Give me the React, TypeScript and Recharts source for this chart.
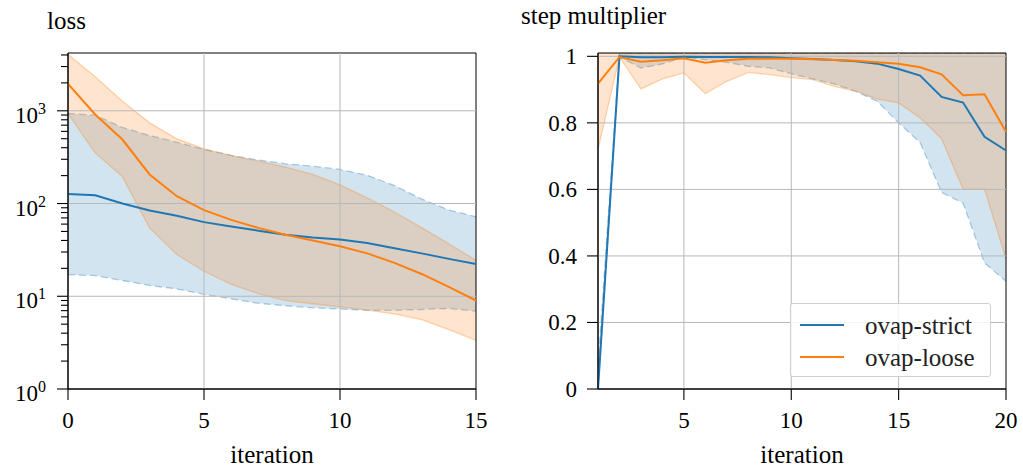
import React from "react";
import {
  ComposedChart,
  Line,
  Area,
  XAxis,
  YAxis,
  ReferenceLine,
  ReferenceArea,
  Legend,
} from "recharts";

// ---- data: loss (left panel) ----
const lossIter = [0, 1, 2, 3, 4, 5, 6, 7, 8, 9, 10, 11, 12, 13, 14, 15];
const strictLossMean = [127, 123, 100, 84, 74, 63, 56.5, 51, 46, 43, 41, 37.6, 33, 29, 25.3, 22.3];
const strictLossLow = [17.1, 16.7, 14.8, 13.1, 12.0, 10.5, 9.4, 8.4, 7.9, 7.5, 7.3, 7.06, 7.06, 7.2, 7.4, 6.9];
const strictLossHigh = [936, 898, 661, 542, 459, 383, 330, 294, 268, 253, 233, 202, 156, 112, 85, 72];
const looseLossMean = [1955, 912, 490, 206, 120, 85, 66.7, 54.6, 46, 40, 34.6, 29, 22.9, 17.4, 12.6, 9.0];
const looseLossLow = [930, 352, 195, 54.6, 28.2, 18.6, 13.4, 10.7, 9.0, 8.3, 7.7, 7.1, 6.45, 5.6, 4.37, 3.35];
const looseLossHigh = [4055, 2328, 1271, 741, 499, 389, 330, 286, 247, 206, 159, 115, 81, 55, 36.7, 24.4];

const lossMajorTicks = [1, 10, 100, 1000];
const lossMinorTicks = [
  2, 3, 4, 5, 6, 7, 8, 9, 20, 30, 40, 50, 60, 70, 80, 90, 200, 300, 400, 500, 600, 700, 800, 900,
  2000, 3000, 4000,
];
const lossXTicks = [0, 5, 10, 15];

// ---- data: step multiplier (right panel) ----
const stepIter = [1, 2, 3, 4, 5, 6, 7, 8, 9, 10, 11, 12, 13, 14, 15, 16, 17, 18, 19, 20];
const strictStepMean = [0.0, 1.0, 0.997, 0.997, 0.999, 0.998, 0.998, 0.998, 0.997, 0.994, 0.992, 0.989, 0.985, 0.978, 0.962, 0.942, 0.878, 0.861, 0.758, 0.717];
const strictStepLow = [0.0, 0.998, 0.965, 0.977, 0.998, 0.99, 0.982, 0.97, 0.965, 0.948, 0.932, 0.917, 0.895, 0.865, 0.8, 0.741, 0.591, 0.559, 0.379, 0.324];
const strictStepHigh = [0.07, 1.01, 1.01, 1.01, 1.01, 1.01, 1.01, 1.01, 1.01, 1.01, 1.01, 1.01, 1.01, 1.01, 1.01, 1.01, 1.01, 1.01, 1.01, 1.01];
const looseStepMean = [0.918, 0.998, 0.984, 0.988, 0.994, 0.981, 0.988, 0.993, 0.993, 0.993, 0.991, 0.989, 0.987, 0.982, 0.978, 0.967, 0.946, 0.883, 0.886, 0.773];
const looseStepLow = [0.72, 0.998, 0.902, 0.932, 0.95, 0.888, 0.925, 0.952, 0.945, 0.936, 0.93, 0.91, 0.895, 0.872, 0.86, 0.815, 0.752, 0.601, 0.601, 0.391];
const looseStepHigh = [1.01, 1.01, 1.01, 1.01, 1.01, 1.01, 1.01, 1.01, 1.01, 1.01, 1.01, 1.01, 1.01, 1.01, 1.01, 1.01, 1.01, 1.01, 1.01, 1.01];

const stepYTicks = [0, 0.2, 0.4, 0.6, 0.8, 1];
const stepXTicks = [5, 10, 15, 20];

const seriesNames = ["ovap-strict", "ovap-loose"];
const BLUE = "#1f77b4";
const ORANGE = "#ff7f0e";
const GRID = "#b8b8b8";
const FONT = "'Liberation Serif', 'Times New Roman', serif";

const lossData = lossIter.map((x, i) => ({
  x,
  strictMean: strictLossMean[i],
  strictBand: [strictLossLow[i], strictLossHigh[i]],
  looseMean: looseLossMean[i],
  looseBand: [looseLossLow[i], looseLossHigh[i]],
}));

const stepData = stepIter.map((x, i) => ({
  x,
  strictMean: strictStepMean[i],
  strictBand: [strictStepLow[i], strictStepHigh[i]],
  looseMean: looseStepMean[i],
  looseBand: [looseStepLow[i], looseStepHigh[i]],
}));

const majorSet = new Set(lossMajorTicks);

function LogTick(props: any) {
  const { x, y, payload } = props;
  const v = payload.value;
  const major = majorSet.has(v);
  const exp = Math.round(Math.log10(v));
  return (
    <g>
      <line x1={x} y1={y} x2={x - (major ? 11 : 7)} y2={y} stroke="#000" strokeWidth={1.1} />
      {major && (
        <text x={x - 22} y={y + 12} textAnchor="end" fontFamily={FONT} fontSize={23} fill="#000">
          10
          <tspan dy={-9} fontSize={16}>
            {exp}
          </tspan>
        </text>
      )}
    </g>
  );
}

function LinYTick(props: any) {
  const { x, y, payload } = props;
  return (
    <g>
      <line x1={x} y1={y} x2={x - 11} y2={y} stroke="#000" strokeWidth={1.1} />
      <text x={x - 21} y={y + 8} textAnchor="end" fontFamily={FONT} fontSize={23} fill="#000">
        {String(payload.value)}
      </text>
    </g>
  );
}

function XTick(props: any) {
  const { x, y, payload } = props;
  return (
    <g>
      <line x1={x} y1={y} x2={x} y2={y + 11} stroke="#000" strokeWidth={1.1} />
      <text x={x} y={y + 39} textAnchor="middle" fontFamily={FONT} fontSize={23} fill="#000">
        {String(payload.value)}
      </text>
    </g>
  );
}

function LegendBox(props: any) {
  const items = (props.payload || [])
    .filter((p: any) => p.type !== "none" && seriesNames.includes(p.value))
    .sort((a: any, b: any) => seriesNames.indexOf(a.value) - seriesNames.indexOf(b.value));
  return (
    <div
      style={{
        border: "1px solid #d0d0d0",
        borderRadius: 3,
        background: "rgba(255,255,255,0.85)",
        width: 201,
        height: 74,
        boxSizing: "border-box",
        paddingTop: 5,
      }}
    >
      {items.map((it: any) => (
        <div key={it.value} style={{ display: "flex", alignItems: "center", height: 32 }}>
          <div style={{ width: 44, height: 2, background: it.color, marginLeft: 9, marginRight: 21 }} />
          <span style={{ fontFamily: FONT, fontSize: 25, color: "#222", lineHeight: "25px" }}>{it.value}</span>
        </div>
      ))}
    </div>
  );
}

const axisLabel = (text: string) => ({
  value: text,
  position: "insideBottom" as const,
  offset: 4,
  fontFamily: FONT,
  fontSize: 25,
  fill: "#000",
});

export default function App() {
  return (
    <div style={{ position: "absolute", left: 0, top: 0, width: 1023, height: 467, background: "#fff" }}>
      <div style={{ position: "absolute", left: 47, top: 8, fontFamily: FONT, fontSize: 25, lineHeight: "25px" }}>loss</div>
      <div style={{ position: "absolute", left: 521, top: 3, fontFamily: FONT, fontSize: 25, lineHeight: "25px" }}>
        step multiplier
      </div>

      <div style={{ position: "absolute", left: 0, top: 0 }}>
        <ComposedChart width={500} height={467} data={lossData} margin={{ top: 53, right: 24, bottom: 0, left: 0 }}>
          <XAxis
            dataKey="x"
            type="number"
            domain={[0, 15]}
            ticks={lossXTicks}
            interval={0}
            height={78}
            tickSize={0}
            tickMargin={0}
            tickLine={false}
            tick={<XTick />}
            axisLine={{ stroke: "#000" }}
            label={axisLabel("iteration")}
          />
          <YAxis
            type="number"
            scale="log"
            domain={[1, 4200]}
            allowDataOverflow
            ticks={[...lossMajorTicks, ...lossMinorTicks]}
            interval={0}
            width={68}
            tickSize={0}
            tickMargin={0}
            tickLine={false}
            tick={<LogTick />}
            axisLine={{ stroke: "#000" }}
          />
          {lossMajorTicks.slice(1).map((v) => (
            <ReferenceLine key={"h" + v} y={v} stroke={GRID} strokeWidth={1} />
          ))}
          {lossXTicks.slice(1, -1).map((v) => (
            <ReferenceLine key={"v" + v} x={v} stroke={GRID} strokeWidth={1} />
          ))}
          <Area
            dataKey="strictBand"
            type="linear"
            fill={BLUE}
            fillOpacity={0.2}
            stroke={BLUE}
            strokeOpacity={0.35}
            strokeWidth={1.3}
            strokeDasharray="7 4"
            dot={false}
            activeDot={false}
            legendType="none"
            isAnimationActive={false}
          />
          <Area
            dataKey="looseBand"
            type="linear"
            fill={ORANGE}
            fillOpacity={0.2}
            stroke={ORANGE}
            strokeOpacity={0.3}
            strokeWidth={1.3}
            dot={false}
            activeDot={false}
            legendType="none"
            isAnimationActive={false}
          />
          <Line dataKey="strictMean" name={seriesNames[0]} type="linear" stroke={BLUE} strokeWidth={2} dot={false} isAnimationActive={false} />
          <Line dataKey="looseMean" name={seriesNames[1]} type="linear" stroke={ORANGE} strokeWidth={2} dot={false} isAnimationActive={false} />
          <ReferenceArea x1={0} x2={15} y1={1} y2={4200} fill="none" stroke="#000" strokeWidth={1} ifOverflow="visible" />
        </ComposedChart>
      </div>

      <div style={{ position: "absolute", left: 510, top: 0 }}>
        <ComposedChart width={513} height={467} data={stepData} margin={{ top: 53, right: 17, bottom: 0, left: 0 }}>
          <XAxis
            dataKey="x"
            type="number"
            domain={[1, 20]}
            ticks={stepXTicks}
            interval={0}
            height={78}
            tickSize={0}
            tickMargin={0}
            tickLine={false}
            tick={<XTick />}
            axisLine={{ stroke: "#000" }}
            label={axisLabel("iteration")}
          />
          <YAxis
            type="number"
            domain={[0, 1.01]}
            allowDataOverflow
            ticks={stepYTicks}
            interval={0}
            width={88}
            tickSize={0}
            tickMargin={0}
            tickLine={false}
            tick={<LinYTick />}
            axisLine={{ stroke: "#000" }}
          />
          {stepYTicks.slice(1).map((v) => (
            <ReferenceLine key={"h" + v} y={v} stroke={GRID} strokeWidth={1} />
          ))}
          {stepXTicks.slice(0, -1).map((v) => (
            <ReferenceLine key={"v" + v} x={v} stroke={GRID} strokeWidth={1} />
          ))}
          <Area
            dataKey="strictBand"
            type="linear"
            fill={BLUE}
            fillOpacity={0.2}
            stroke={BLUE}
            strokeOpacity={0.35}
            strokeWidth={1.3}
            strokeDasharray="7 4"
            dot={false}
            activeDot={false}
            legendType="none"
            isAnimationActive={false}
          />
          <Area
            dataKey="looseBand"
            type="linear"
            fill={ORANGE}
            fillOpacity={0.2}
            stroke={ORANGE}
            strokeOpacity={0.3}
            strokeWidth={1.3}
            dot={false}
            activeDot={false}
            legendType="none"
            isAnimationActive={false}
          />
          <Line dataKey="strictMean" name={seriesNames[0]} type="linear" stroke={BLUE} strokeWidth={2} dot={false} isAnimationActive={false} />
          <Line dataKey="looseMean" name={seriesNames[1]} type="linear" stroke={ORANGE} strokeWidth={2} dot={false} isAnimationActive={false} />
          <ReferenceArea x1={1} x2={20} y1={0} y2={1.01} fill="none" stroke="#000" strokeWidth={1} ifOverflow="visible" />
          <Legend
            layout="vertical"
            align="center"
            verticalAlign="middle"
            content={<LegendBox />}
            wrapperStyle={{ position: "absolute", left: 280, top: 303, width: 201, height: 74 }}
          />
        </ComposedChart>
      </div>
    </div>
  );
}
